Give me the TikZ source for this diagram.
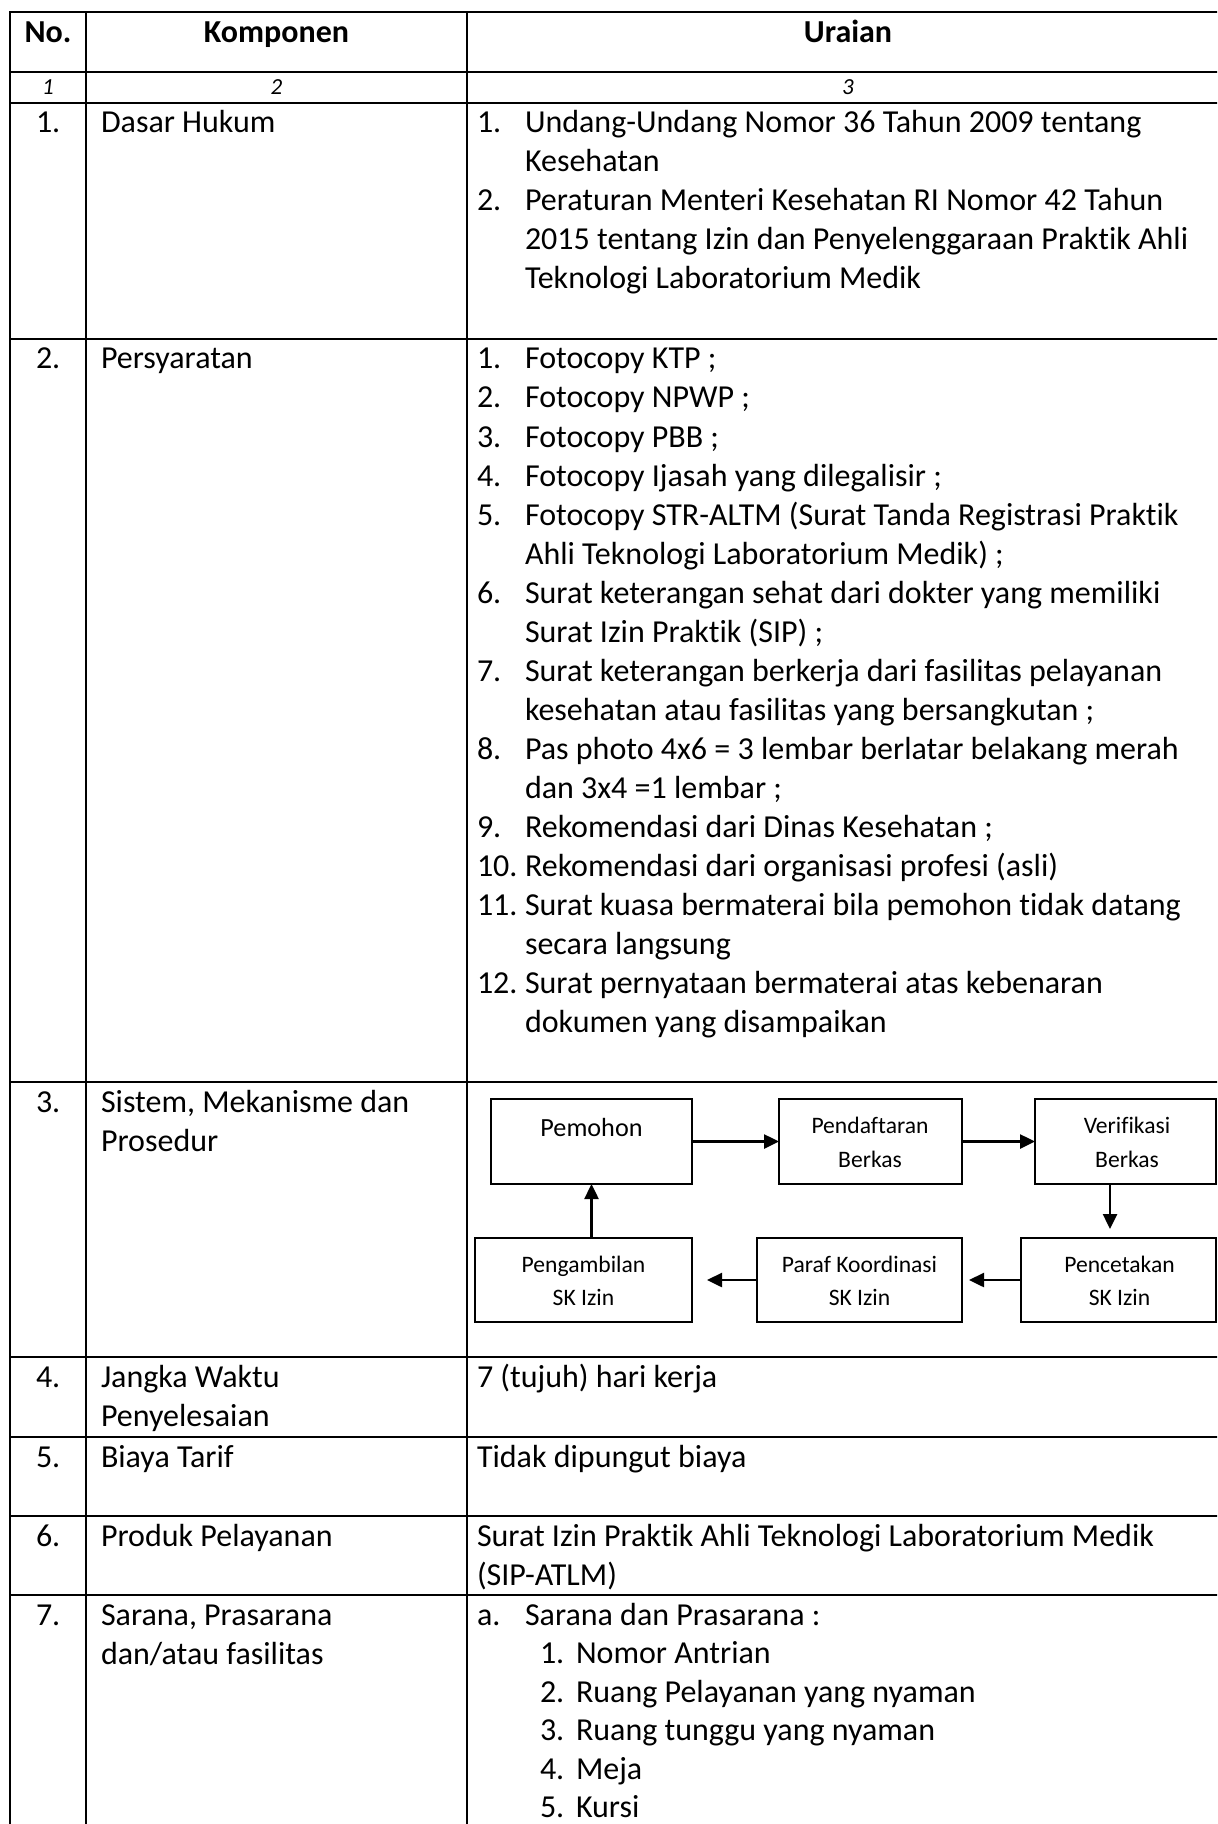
\documentclass[tikz,border=0pt]{standalone}
\usepackage{fontspec}
\setmainfont{Carlito}[Ligatures={NoCommon}]
\usetikzlibrary{arrows.meta,fit}
\newcommand\tx[4]{\node[txt] (#1) at (#2,#3) {#4};}
\begin{document}
\begin{tikzpicture}[x=0.5pt,y=-0.5pt,
  tline/.style={line width=1.35pt,line cap=rect},
  txt/.style={anchor=base west,inner sep=0pt,outer sep=0pt,font=\fontsize{16}{19.5}\selectfont},
  hd/.style={anchor=base,inner sep=0pt,font=\fontsize{16}{19.5}\selectfont\bfseries},
  sub/.style={anchor=base,inner sep=0pt,font=\fontsize{11.5}{14}\selectfont\itshape},
  box/.style={draw,line width=1pt,inner sep=0pt,outer sep=0pt},
  btxt/.style={anchor=base,inner sep=0pt,font=\fontsize{11.8}{14}\selectfont},
  arr/.style={line width=1.25pt,-{Triangle[length=7.5pt,width=7pt]}}]
\useasboundingbox (0,0) rectangle (1217,1824);
\fill[white] (0,0) rectangle (1217,1824);
\begin{scope}
\clip (0,0) rectangle (1217,1824);
% table grid
\foreach \yy in {12,72,103,339,1082,1357,1437,1516,1595}
  \draw[tline] (10,\yy) -- (1240,\yy);
\foreach \xx in {10,86,467}
  \draw[tline] (\xx,12) -- (\xx,1840);
\end{scope}
% header
\node[hd] (hno) at (48,43) {No.};
\node[hd] (hkomp) at (276.5,43) {Komponen};
\node[hd] (hur) at (848,43) {Uraian};
\node[sub] (s1) at (48,95) {1};
\node[sub] (s2) at (276.5,95) {2};
\node[sub] (s3) at (848,95) {3};
% row 1
\tx{n1}{36}{133}{1.}
\tx{k1}{101}{133}{Dasar Hukum}
\tx{u1a}{477}{133}{1.}\tx{u1b}{525}{133}{Undang-Undang Nomor 36 Tahun 2009 tentang}
\tx{u1c}{525}{172}{Kesehatan}
\tx{u1d}{477}{211}{2.}\tx{u1e}{525}{211}{Peraturan Menteri Kesehatan RI Nomor 42 Tahun}
\tx{u1f}{525}{250}{2015 tentang Izin dan Penyelenggaraan Praktik Ahli}
\tx{u1g}{525}{289}{Teknologi Laboratorium Medik}
% row 2
\tx{n2}{36}{369}{2.}
\tx{k2}{101}{369}{Persyaratan}
\tx{p1n}{477}{369}{1.}\tx{p1}{525}{369}{Fotocopy KTP ;}
\tx{p2n}{477}{408}{2.}\tx{p2}{525}{408}{Fotocopy NPWP ;}
\tx{p3n}{477}{447}{3.}\tx{p3}{525}{447}{Fotocopy PBB ;}
\tx{p4n}{477}{486}{4.}\tx{p4}{525}{486}{Fotocopy Ijasah yang dilegalisir ;}
\tx{p5n}{477}{525}{5.}\tx{p5}{525}{525}{Fotocopy STR-ALTM (Surat Tanda Registrasi Praktik}
\tx{p5b}{525}{564}{Ahli Teknologi Laboratorium Medik) ;}
\tx{p6n}{477}{603}{6.}\tx{p6}{525}{603}{Surat keterangan sehat dari dokter yang memiliki}
\tx{p6b}{525}{642}{Surat Izin Praktik (SIP) ;}
\tx{p7n}{477}{681}{7.}\tx{p7}{525}{681}{Surat keterangan berkerja dari fasilitas pelayanan}
\tx{p7b}{525}{720}{kesehatan atau fasilitas yang bersangkutan ;}
\tx{p8n}{477}{759}{8.}\tx{p8}{525}{759}{Pas photo 4x6 = 3 lembar berlatar belakang merah}
\tx{p8b}{525}{798}{dan 3x4 =1 lembar ;}
\tx{p9n}{477}{837}{9.}\tx{p9}{525}{837}{Rekomendasi dari Dinas Kesehatan ;}
\tx{p10n}{477}{876}{10.}\tx{p10}{525}{876}{Rekomendasi dari organisasi profesi (asli)}
\tx{p11n}{477}{915}{11.}\tx{p11}{525}{915}{Surat kuasa bermaterai bila pemohon tidak datang}
\tx{p11b}{525}{954}{secara langsung}
\tx{p12n}{477}{993}{12.}\tx{p12}{525}{993}{Surat pernyataan bermaterai atas kebenaran}
\tx{p12b}{525}{1032}{dokumen yang disampaikan}
% row 3
\tx{n3}{36}{1112}{3.}
\tx{k3}{101}{1112}{Sistem, Mekanisme dan}
\tx{k3b}{101}{1151}{Prosedur}
% flowchart
\node[box,fit={(491,1099) (692,1184)}] (pem) {};
\node[box,fit={(779,1099) (962,1184)}] (pen) {};
\node[box,fit={(1035,1099) (1216,1184)}] (ver) {};
\node[box,fit={(475,1238) (692,1322)}] (peng) {};
\node[box,fit={(757,1238) (962,1322)}] (par) {};
\node[box,fit={(1021,1238) (1216,1322)}] (pct) {};
\node[btxt,font=\fontsize{13.1}{15}\selectfont] (tpem) at (591.5,1136) {Pemohon};
\node[btxt] (tpen1) at (870,1133) {Pendaftaran};
\node[btxt] (tpen2) at (870,1167) {Berkas};
\node[btxt] (tver1) at (1127,1133) {Verifikasi};
\node[btxt] (tver2) at (1127,1167) {Berkas};
\node[btxt] (tpeng1) at (583.5,1272) {Pengambilan};
\node[btxt] (tpeng2) at (583.5,1305) {SK Izin};
\node[btxt] (tpar1) at (859.5,1272) {Paraf Koordinasi};
\node[btxt] (tpar2) at (859.5,1305) {SK Izin};
\node[btxt] (tpct1) at (1119.5,1272) {Pencetakan};
\node[btxt] (tpct2) at (1119.5,1305) {SK Izin};
\draw[arr] (pem.east) -- (pen.west);
\draw[arr] (pen.east) -- (ver.west);
\draw[arr] ([xshift=37.5pt]ver.south west) -- ([xshift=44.5pt,yshift=4.5pt]pct.north west);
\draw[arr,shorten >=3.5pt] (pct.west) -- (par.east);
\draw[arr,shorten >=7.5pt] (par.west) -- (peng.east);
\draw[arr] (peng.north -| pem.south) -- (pem.south);
% row 4
\tx{n4}{36}{1387}{4.}
\tx{k4}{101}{1387}{Jangka Waktu}
\tx{k4b}{101}{1426}{Penyelesaian}
\tx{u4}{477}{1387}{7 (tujuh) hari kerja}
% row 5
\tx{n5}{36}{1467}{5.}
\tx{k5}{101}{1467}{Biaya Tarif}
\tx{u5}{477}{1467}{Tidak dipungut biaya}
% row 6
\tx{n6}{36}{1546}{6.}
\tx{k6}{101}{1546}{Produk Pelayanan}
\tx{u6}{477}{1546}{Surat Izin Praktik Ahli Teknologi Laboratorium Medik}
\tx{u6b}{477}{1585}{(SIP-ATLM)}
% row 7
\tx{n7}{36}{1625}{7.}
\tx{k7}{101}{1625}{Sarana, Prasarana}
\tx{k7b}{101}{1664}{dan/atau fasilitas}
\tx{u7a}{477}{1625}{a.}\tx{u7}{525}{1625}{Sarana dan Prasarana :}
\tx{s1n}{540}{1663.5}{1.}\tx{s1t}{576}{1663.5}{Nomor Antrian}
\tx{s2n}{540}{1702}{2.}\tx{s2t}{576}{1702}{Ruang Pelayanan yang nyaman}
\tx{s3n}{540}{1740.5}{3.}\tx{s3t}{576}{1740.5}{Ruang tunggu yang nyaman}
\tx{s4n}{540}{1779}{4.}\tx{s4t}{576}{1779}{Meja}
\tx{s5n}{540}{1817}{5.}\tx{s5t}{576}{1817}{Kursi}
\end{tikzpicture}
\end{document}
